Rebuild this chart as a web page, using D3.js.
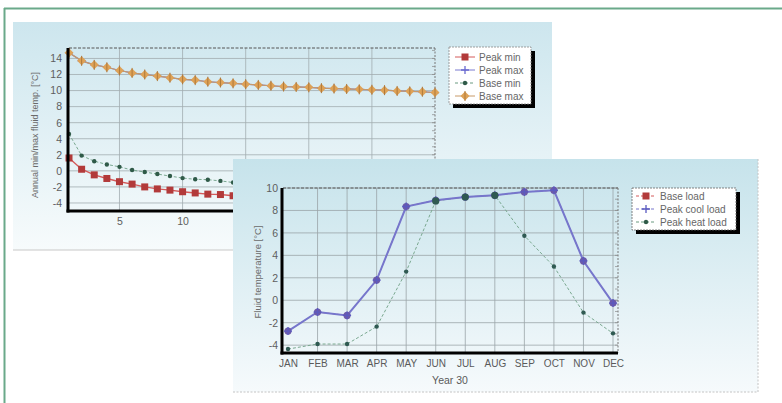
<!DOCTYPE html>
<html>
<head>
<meta charset="utf-8">
<script src="https://cdn.jsdelivr.net/npm/d3@7"></script>
<style>
  body { margin: 0; background: #fff; }
  text { font-family: "Liberation Sans", Arial, sans-serif; }
</style>
</head>
<body>
<div id="chart"></div>
<script>
// ---- chart 1 data: annual min/max fluid temperature per year ----
const years = [1,2,3,4,5,6,7,8,9,10,11,12,13,14,15,16,17,18,19,20,21,22,23,24,25,26,27,28,29,30];
const peakMin = [1.6,0.2,-0.5,-0.95,-1.35,-1.65,-2.0,-2.25,-2.4,-2.6,-2.75,-2.9,-2.95,-3.1,-3.2,-3.3,-3.4,-3.45,-3.5,-3.6,-3.65,-3.7,-3.75,-3.8,-3.85,-3.9,-3.95,-4.0,-4.05,-4.1];
const baseMin = [4.6,1.9,1.2,0.8,0.5,0.1,-0.15,-0.4,-0.65,-0.9,-1.05,-1.1,-1.25,-1.45,-1.55,-1.65,-1.75,-1.8,-1.9,-1.95,-2.0,-2.05,-2.1,-2.15,-2.2,-2.25,-2.3,-2.35,-2.4,-2.45];
const baseMax = [14.7,13.7,13.2,12.9,12.5,12.2,12.0,11.8,11.6,11.4,11.3,11.1,11.0,10.9,10.8,10.7,10.6,10.5,10.45,10.4,10.3,10.25,10.2,10.15,10.1,10.05,9.95,9.9,9.85,9.75];
const peakMax = [14.7,13.7,13.2,12.9,12.5,12.2,12.0,11.8,11.6,11.4,11.3,11.1,11.0,10.9,10.8,10.7,10.6,10.5,10.45,10.4,10.3,10.25,10.2,10.15,10.1,10.05,9.95,9.9,9.85,9.75];
const yTicks1 = [-4,-2,0,2,4,6,8,10,12,14];
const xTicks1 = [5,10,15,20,25];

// ---- chart 2 data: monthly fluid temperature, year 30 ----
const months = ["JAN","FEB","MAR","APR","MAY","JUN","JUL","AUG","SEP","OCT","NOV","DEC"];
const peakCool = [-2.75,-1.05,-1.35,1.8,8.35,8.9,9.2,9.35,9.65,9.8,3.5,-0.25];
const baseLoad = [-2.75,-1.05,-1.35,1.8,8.35,8.9,9.2,9.35,9.65,9.8,3.5,-0.25];
const peakHeat = [-4.35,-3.9,-3.9,-2.35,2.55,8.85,9.2,9.35,5.75,3.0,-1.1,-2.95];
const yTicks2 = [-4,-2,0,2,4,6,8,10];

const svg = d3.select("#chart").append("svg")
  .attr("width", 782).attr("height", 403);

const defs = svg.append("defs");
function grad(id, c1, c2) {
  const g = defs.append("linearGradient").attr("id", id)
    .attr("x1", 0).attr("y1", 0).attr("x2", 0).attr("y2", 1);
  g.append("stop").attr("offset", "0%").attr("stop-color", c1);
  g.append("stop").attr("offset", "100%").attr("stop-color", c2);
}
grad("bg1", "#cde6ee", "#f7fbfc");
grad("bg2", "#c6e3eb", "#f6fafc");

// green frame
svg.append("line").attr("x1", 4).attr("x2", 782).attr("y1", 8.5).attr("y2", 8.5)
  .attr("stroke", "#6aa98a").attr("stroke-width", 2);
svg.append("line").attr("x1", 4.5).attr("x2", 4.5).attr("y1", 8).attr("y2", 403)
  .attr("stroke", "#6aa98a").attr("stroke-width", 2);

// plain hyphen for negative tick labels, like the original
const fmt = d => String(d);

// generic marker drawing
function marker(g, kind, x, y, color) {
  if (kind === "square") {
    g.append("rect").attr("x", x - 3.5).attr("y", y - 3.5).attr("width", 7).attr("height", 7)
      .attr("fill", color);
  } else if (kind === "dot") {
    g.append("circle").attr("cx", x).attr("cy", y).attr("r", 2.2).attr("fill", color);
  } else if (kind === "diamond") {
    g.append("path").attr("d", `M${x},${y-4.5}L${x+4.5},${y}L${x},${y+4.5}L${x-4.5},${y}Z`)
      .attr("fill", color);
    g.append("path").attr("d", `M${x},${y-5}V${y+5}`).attr("stroke", "#b07a3a").attr("stroke-width", 1);
  } else if (kind === "plus") {
    g.append("path").attr("d", `M${x-4},${y}H${x+4}M${x},${y-4}V${y+4}`)
      .attr("stroke", color).attr("stroke-width", 1.3);
  } else if (kind === "blob") {
    g.append("circle").attr("cx", x).attr("cy", y).attr("r", 3.6).attr("fill", color);
  }
}

// ================= CHART 1 =================
const p1 = svg.append("g");
p1.append("rect").attr("x", 13).attr("y", 22).attr("width", 539).attr("height", 228)
  .attr("fill", "url(#bg1)");
p1.append("line").attr("x1", 13).attr("x2", 552).attr("y1", 250).attr("y2", 250)
  .attr("stroke", "#c8c8c8").attr("stroke-width", 1);

const x1 = d3.scaleLinear().domain([1, 30]).range([69, 435]);
const y1 = d3.scaleLinear().domain([-5, 15.3]).range([211, 48]);

// grid
p1.append("g").selectAll("line").data(yTicks1).join("line")
  .attr("x1", x1(1)).attr("x2", x1(30)).attr("y1", d => y1(d)).attr("y2", d => y1(d))
  .attr("stroke", "#a2acb0").attr("stroke-width", 0.8);
p1.append("g").selectAll("line").data(xTicks1).join("line")
  .attr("x1", d => x1(d)).attr("x2", d => x1(d)).attr("y1", y1(15.3)).attr("y2", y1(-5))
  .attr("stroke", "#a2acb0").attr("stroke-width", 0.8);
// top and right frame
p1.append("line").attr("x1", x1(1)).attr("x2", x1(30)).attr("y1", y1(15.3)).attr("y2", y1(15.3))
  .attr("stroke", "#555").attr("stroke-width", 1).attr("stroke-dasharray", "3,1.5");
p1.append("line").attr("x1", x1(30)).attr("x2", x1(30)).attr("y1", y1(15.3)).attr("y2", y1(-5))
  .attr("stroke", "#777").attr("stroke-width", 1).attr("stroke-dasharray", "2,1.5");
p1.append("g").selectAll("line").data(d3.range(-4, 16, 1)).join("line")
  .attr("x1", x1(30) - 3).attr("x2", x1(30)).attr("y1", d => y1(d)).attr("y2", d => y1(d))
  .attr("stroke", "#888").attr("stroke-width", 0.7);

// series
const line1 = vals => d3.line().x((d, i) => x1(years[i])).y(d => y1(d))(vals);
p1.append("path").attr("d", line1(peakMax)).attr("fill", "none")
  .attr("stroke", "#7a7ad0").attr("stroke-width", 1.2);
p1.append("path").attr("d", line1(baseMax)).attr("fill", "none")
  .attr("stroke", "#c89a68").attr("stroke-width", 1.2);
p1.append("path").attr("d", line1(baseMin)).attr("fill", "none")
  .attr("stroke", "#7aa890").attr("stroke-width", 1).attr("stroke-dasharray", "3,2");
p1.append("path").attr("d", line1(peakMin)).attr("fill", "none")
  .attr("stroke", "#d45a5a").attr("stroke-width", 1.4);
const m1 = p1.append("g");
years.forEach((yr, i) => {
  marker(m1, "plus", x1(yr), y1(peakMax[i]), "#6a6ad0");
  marker(m1, "diamond", x1(yr), y1(baseMax[i]), "#dea257");
  marker(m1, "dot", x1(yr), y1(baseMin[i]), "#2f5a48");
  marker(m1, "square", x1(yr), y1(peakMin[i]), "#b23a3a");
});

// axes
const ax1 = p1.append("g").attr("transform", `translate(${x1(1) - 1},0)`)
  .call(d3.axisLeft(y1).tickValues(yTicks1).tickFormat(fmt).tickSize(0).tickPadding(6));
ax1.select(".domain").remove();
ax1.selectAll("text").attr("fill", "#5e5e5e").style("font-size", "10.5px");
const bx1 = p1.append("g").attr("transform", `translate(0,${y1(-5)})`)
  .call(d3.axisBottom(x1).tickValues(xTicks1).tickFormat(fmt).tickSize(0).tickPadding(7));
bx1.select(".domain").remove();
bx1.selectAll("text").attr("fill", "#5e5e5e").style("font-size", "10.5px");
p1.append("line").attr("x1", x1(1) - 1).attr("x2", x1(1) - 1).attr("y1", y1(15.3)).attr("y2", y1(-5) + 1.5)
  .attr("stroke", "#000").attr("stroke-width", 3);
p1.append("line").attr("x1", x1(1) - 2.5).attr("x2", x1(30)).attr("y1", y1(-5)).attr("y2", y1(-5))
  .attr("stroke", "#000").attr("stroke-width", 3);

p1.append("text").attr("transform", "translate(38,135) rotate(-90)")
  .attr("text-anchor", "middle").attr("fill", "#6a6a6a").style("font-size", "9px")
  .text("Annual min/max fluid temp. [°C]");

// legend 1
const leg1 = [
  {name: "Peak min", color: "#d45a5a", mk: "square", mc: "#b23a3a", dash: null},
  {name: "Peak max", color: "#7a7ad0", mk: "plus", mc: "#6a6ad0", dash: null},
  {name: "Base min", color: "#6a9a80", mk: "dot", mc: "#2f5a48", dash: "3,2"},
  {name: "Base max", color: "#c89a68", mk: "diamond", mc: "#dea257", dash: null}
];
const l1 = p1.append("g");
l1.append("rect").attr("x", 453).attr("y", 51).attr("width", 82).attr("height", 57).attr("fill", "#000");
l1.append("rect").attr("x", 449).attr("y", 47).attr("width", 82).attr("height", 57)
  .attr("fill", "#fff").attr("stroke", "#888").attr("stroke-width", 0.8).attr("stroke-dasharray", "2,1");
leg1.forEach((d, i) => {
  const yy = 57 + i * 13;
  l1.append("line").attr("x1", 455).attr("x2", 475).attr("y1", yy).attr("y2", yy)
    .attr("stroke", d.color).attr("stroke-width", 1).attr("stroke-dasharray", d.dash);
  marker(l1, d.mk, 465, yy, d.mc);
  l1.append("text").attr("x", 479).attr("y", yy + 3.5).attr("fill", "#666")
    .style("font-size", "10px").text(d.name);
});

// ================= CHART 2 =================
const p2 = svg.append("g");
p2.append("rect").attr("x", 233).attr("y", 159).attr("width", 525).attr("height", 233)
  .attr("fill", "url(#bg2)");
p2.append("path").attr("d", "M758,159V392H233")
  .attr("fill", "none").attr("stroke", "#c4c4c4").attr("stroke-width", 1).attr("stroke-dasharray", "2,1.5");

const x2 = d3.scalePoint().domain(months).range([288, 613]);
const y2 = d3.scaleLinear().domain([-4.7, 10]).range([353, 188]);

p2.append("g").selectAll("line").data(yTicks2).join("line")
  .attr("x1", 283).attr("x2", 618).attr("y1", d => y2(d)).attr("y2", d => y2(d))
  .attr("stroke", "#9aa4a8").attr("stroke-width", 0.8);
p2.append("g").selectAll("line").data(months.slice(1)).join("line")
  .attr("x1", d => x2(d)).attr("x2", d => x2(d)).attr("y1", y2(10)).attr("y2", y2(-4.7))
  .attr("stroke", "#9aa4a8").attr("stroke-width", 0.8);
p2.append("line").attr("x1", 283).attr("x2", 618).attr("y1", y2(10)).attr("y2", y2(10))
  .attr("stroke", "#555").attr("stroke-width", 1).attr("stroke-dasharray", "3,1.5");
p2.append("line").attr("x1", 618).attr("x2", 618).attr("y1", y2(10)).attr("y2", y2(-4.7))
  .attr("stroke", "#777").attr("stroke-width", 1).attr("stroke-dasharray", "2,1.5");
p2.append("g").selectAll("line").data(d3.range(-4, 10.5, 1)).join("line")
  .attr("x1", 615).attr("x2", 618).attr("y1", d => y2(d)).attr("y2", d => y2(d))
  .attr("stroke", "#888").attr("stroke-width", 0.7);

const line2 = vals => d3.line().x((d, i) => x2(months[i])).y(d => y2(d))(vals);
p2.append("path").attr("d", line2(baseLoad)).attr("fill", "none")
  .attr("stroke", "#d45a5a").attr("stroke-width", 1).attr("stroke-dasharray", "3,2");
p2.append("path").attr("d", line2(peakHeat)).attr("fill", "none")
  .attr("stroke", "#7aa890").attr("stroke-width", 1).attr("stroke-dasharray", "3,2");
p2.append("path").attr("d", line2(peakCool)).attr("fill", "none")
  .attr("stroke", "#7676cc").attr("stroke-width", 2);
const m2 = p2.append("g");
months.forEach((mo, i) => {
  marker(m2, "blob", x2(mo), y2(baseLoad[i]), "#6c5aa8");
  marker(m2, "plus", x2(mo), y2(peakCool[i]), "#5a5ac0");
});
months.forEach((mo, i) => {
  const same = Math.abs(peakHeat[i] - peakCool[i]) < 0.1;
  m2.append("circle").attr("cx", x2(mo)).attr("cy", y2(peakHeat[i]))
    .attr("r", same ? 3.6 : 2.2).attr("fill", "#2f5a52");
});

const ax2 = p2.append("g").attr("transform", "translate(282,0)")
  .call(d3.axisLeft(y2).tickValues(yTicks2).tickFormat(fmt).tickSize(0).tickPadding(4));
ax2.select(".domain").remove();
ax2.selectAll("text").attr("fill", "#5e5e5e").style("font-size", "10.5px");
const bx2 = p2.append("g").attr("transform", `translate(0,${y2(-4.7)})`)
  .call(d3.axisBottom(x2).tickSize(0).tickPadding(7));
bx2.select(".domain").remove();
bx2.selectAll("text").attr("fill", "#5a5a5a").style("font-size", "10px");
p2.append("line").attr("x1", 282).attr("x2", 282).attr("y1", y2(10)).attr("y2", y2(-4.7) + 1.5)
  .attr("stroke", "#000").attr("stroke-width", 3);
p2.append("line").attr("x1", 280.5).attr("x2", 618).attr("y1", y2(-4.7)).attr("y2", y2(-4.7))
  .attr("stroke", "#000").attr("stroke-width", 3);

p2.append("text").attr("transform", "translate(261,272) rotate(-90)")
  .attr("text-anchor", "middle").attr("fill", "#6a6a6a").style("font-size", "9.5px")
  .text("Fluid temperature [°C]");
p2.append("text").attr("x", 450).attr("y", 384).attr("text-anchor", "middle")
  .attr("fill", "#5a5a5a").style("font-size", "10.5px").text("Year 30");

// legend 2
const leg2 = [
  {name: "Base load", color: "#d45a5a", mk: "square", mc: "#b23a3a"},
  {name: "Peak cool load", color: "#7676cc", mk: "plus", mc: "#5a5ac0"},
  {name: "Peak heat load", color: "#6a9a80", mk: "dot", mc: "#2f5a48"}
];
const l2 = p2.append("g");
l2.append("rect").attr("x", 636).attr("y", 192).attr("width", 104).attr("height", 42).attr("fill", "#000");
l2.append("rect").attr("x", 632).attr("y", 188).attr("width", 104).attr("height", 42)
  .attr("fill", "#fff").attr("stroke", "#666").attr("stroke-width", 0.8).attr("stroke-dasharray", "2,1");
leg2.forEach((d, i) => {
  const yy = 196 + i * 13;
  l2.append("line").attr("x1", 636).attr("x2", 656).attr("y1", yy).attr("y2", yy)
    .attr("stroke", d.color).attr("stroke-width", 1).attr("stroke-dasharray", "3,2");
  marker(l2, d.mk, 646, yy, d.mc);
  l2.append("text").attr("x", 660).attr("y", yy + 3.5).attr("fill", "#666")
    .style("font-size", "10px").text(d.name);
});
</script>
</body>
</html>
